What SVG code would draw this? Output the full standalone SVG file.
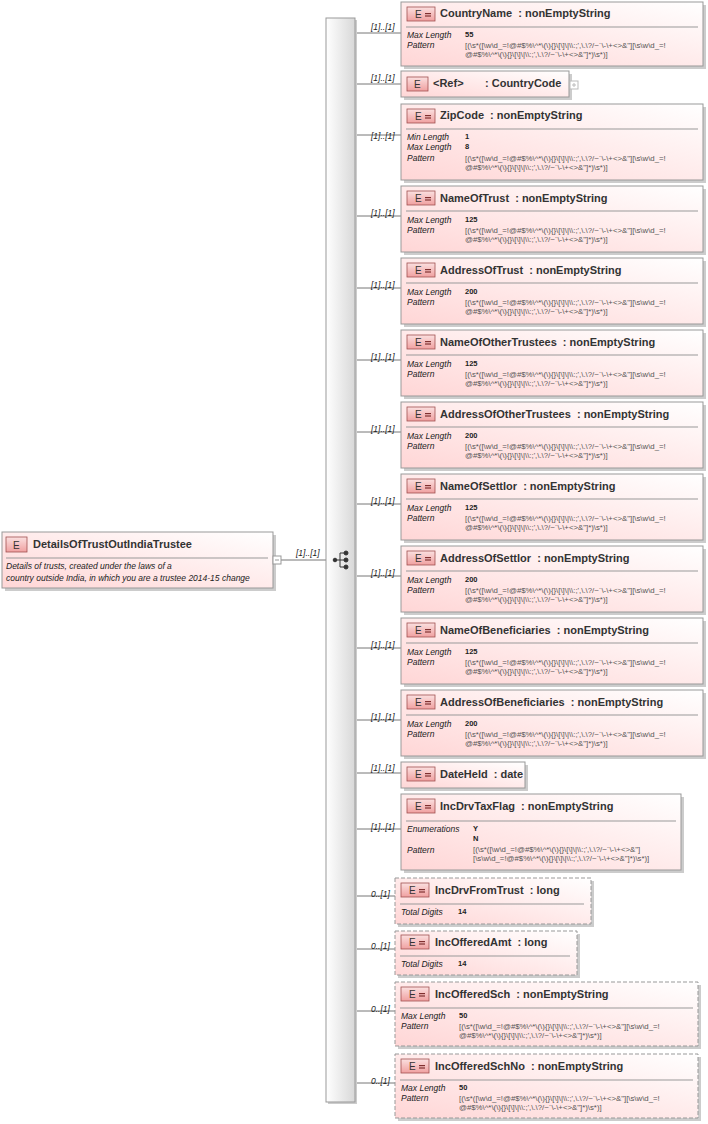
<svg xmlns="http://www.w3.org/2000/svg" width="708" height="1124" viewBox="0 0 708 1124">
<defs>
<linearGradient id="bg" x1="1" y1="0" x2="0" y2="1"><stop offset="0" stop-color="#ffffff"/><stop offset="1" stop-color="#ffd6d6"/></linearGradient>
<linearGradient id="eb" x1="0" y1="0" x2="0" y2="1"><stop offset="0" stop-color="#fbe0e0"/><stop offset="1" stop-color="#f0a0a0"/></linearGradient>
<linearGradient id="sq" x1="0" y1="0" x2="1" y2="0"><stop offset="0" stop-color="#ffffff"/><stop offset="1" stop-color="#d8d8d8"/></linearGradient>
<g id="badge"><rect x="0" y="0" width="28" height="14" fill="url(#eb)" stroke="#a05050" stroke-width="0.8"/><text x="8" y="11" class="eb">E</text><rect x="18" y="6" width="6" height="1.2" fill="#803030"/><rect x="18" y="8.4" width="6" height="1.2" fill="#803030"/></g>
</defs>
<style>
text{font-family:"Liberation Sans",Arial,sans-serif;white-space:pre;}
.box{fill:url(#bg);stroke:#999;stroke-width:1;}
.sh{fill:#ccc;}
.opt{stroke-dasharray:4,2;}
.t{font-size:11px;font-weight:bold;fill:#333;}
.eb{font-size:10px;fill:#333;}
.sep{stroke:#999;stroke-width:1;}
.fl{font-size:8.5px;font-style:italic;fill:#222;}
.fv{font-size:7.5px;font-weight:bold;fill:#222;}
.pv{font-size:7.8px;fill:#555;}
.card{font-size:8.5px;font-style:italic;fill:#222;}
.ln{stroke:#777;stroke-width:1;fill:none;}
</style>
<g id="connectors">
<path class="ln" d="M273 560H326"/>
<path class="ln" d="M355 33H401M355 84H401M355 135H401M355 216H401M355 288H401M355 360H401M355 432H401M355 504H401M355 576H401M355 648H401M355 720H401M355 773H401M355 829H401M355 896H395M355 949H395M355 1011H395M355 1083H395"/>
<g class="card">
<text x="296" y="556">[1]..[1]</text>
<text x="371" y="30">[1]..[1]</text><text x="371" y="81">[1]..[1]</text><text x="371" y="139">[1]..[1]</text><text x="371" y="216">[1]..[1]</text><text x="371" y="288">[1]..[1]</text><text x="371" y="360">[1]..[1]</text><text x="371" y="432">[1]..[1]</text><text x="371" y="504">[1]..[1]</text><text x="371" y="576">[1]..[1]</text><text x="371" y="648">[1]..[1]</text><text x="371" y="720">[1]..[1]</text><text x="371" y="771">[1]..[1]</text><text x="371" y="830">[1]..[1]</text><text x="371" y="897">0..[1]</text><text x="371" y="949">0..[1]</text><text x="371" y="1012">0..[1]</text><text x="371" y="1084">0..[1]</text>
</g>
</g>
<g id="sequence">
<rect x="328" y="20" width="29" height="1084" class="sh"/>
<rect x="326" y="18" width="29" height="1084" fill="url(#sq)" stroke="#999"/>
<g stroke="#333" fill="#333"><path d="M334 560H340M340 553V567M340 553H345M340 560H345M340 567H345" fill="none"/><circle cx="335" cy="560" r="1.8"/><circle cx="346" cy="553" r="2"/><circle cx="346" cy="560" r="2"/><circle cx="346" cy="567" r="2"/></g>
</g>
<g id="parent">
<rect x="5" y="535" width="271" height="56" class="sh"/>
<rect x="2" y="532" width="271" height="56" class="box"/>
<rect x="6" y="537" width="21" height="15" fill="url(#eb)" stroke="#a05050" stroke-width="0.8"/><text x="13" y="549" class="eb">E</text>
<text x="33" y="548" class="t">DetailsOfTrustOutIndiaTrustee</text>
<line x1="6" y1="558" x2="268" y2="558" class="sep"/>
<text x="6" y="569" class="fl">Details of trusts, created under the laws of a</text>
<text x="6" y="581" class="fl">country outside India, in which you are a trustee 2014-15 change</text>
<rect x="273" y="556" width="8" height="8" fill="#fff" stroke="#999"/><path d="M275 560H279" stroke="#999"/>
</g>
<g id="n1"><rect x="404" y="5" width="302" height="64" class="sh"/><rect x="401" y="2" width="302" height="64" class="box"/><use href="#badge" x="407" y="7"/><text x="440" y="17" class="t">CountryName  : nonEmptyString</text><line x1="406" y1="27" x2="698" y2="27" class="sep"/><text x="407" y="38" class="fl">Max Length</text><text x="465" y="37" class="fv">55</text><text x="407" y="48" class="fl">Pattern</text><text x="465" y="48" class="pv">[(\s*([\w\d_=!@#$%\^*\(\){}\[\]\|\\:;',\.\?/~`\-\+&lt;&gt;&amp;"][\s\w\d_=!</text><text x="465" y="57" class="pv">@#$%\^*\(\){}\[\]\|\\:;',\.\?/~`\-\+&lt;&gt;&amp;"]*)\s*)]</text></g>
<g id="n2"><rect x="404" y="74" width="168" height="26" class="sh"/><rect x="401" y="71" width="168" height="26" class="box"/><rect x="407" y="77" width="21" height="14" fill="url(#eb)" stroke="#a05050" stroke-width="0.8"/><text x="414" y="88" class="eb">E</text><text x="433" y="87" class="t">&lt;Ref&gt;</text><text x="485" y="87" class="t">: CountryCode</text><rect x="570" y="81" width="8" height="8" fill="#fff" stroke="#bbb"/><path d="M572 85H576M574 83V87" stroke="#bbb"/></g>
<g id="n3"><rect x="404" y="107" width="302" height="76" class="sh"/><rect x="401" y="104" width="302" height="76" class="box"/><use href="#badge" x="407" y="109"/><text x="440" y="119" class="t">ZipCode  : nonEmptyString</text><line x1="406" y1="129" x2="698" y2="129" class="sep"/><text x="407" y="140" class="fl">Min Length</text><text x="465" y="139" class="fv">1</text><text x="407" y="150" class="fl">Max Length</text><text x="465" y="149" class="fv">8</text><text x="407" y="161" class="fl">Pattern</text><text x="465" y="161" class="pv">[(\s*([\w\d_=!@#$%\^*\(\){}\[\]\|\\:;',\.\?/~`\-\+&lt;&gt;&amp;"][\s\w\d_=!</text><text x="465" y="170" class="pv">@#$%\^*\(\){}\[\]\|\\:;',\.\?/~`\-\+&lt;&gt;&amp;"]*)\s*)]</text></g>
<g id="n4"><rect x="404" y="189" width="302" height="66" class="sh"/><rect x="401" y="186" width="302" height="66" class="box"/><use href="#badge" x="407" y="191"/><text x="440" y="202" class="t">NameOfTrust  : nonEmptyString</text><line x1="406" y1="211" x2="698" y2="211" class="sep"/><text x="407" y="223" class="fl">Max Length</text><text x="465" y="222" class="fv">125</text><text x="407" y="233" class="fl">Pattern</text><text x="465" y="233" class="pv">[(\s*([\w\d_=!@#$%\^*\(\){}\[\]\|\\:;',\.\?/~`\-\+&lt;&gt;&amp;"][\s\w\d_=!</text><text x="465" y="242" class="pv">@#$%\^*\(\){}\[\]\|\\:;',\.\?/~`\-\+&lt;&gt;&amp;"]*)\s*)]</text></g>
<g id="n5"><rect x="404" y="261" width="302" height="66" class="sh"/><rect x="401" y="258" width="302" height="66" class="box"/><use href="#badge" x="407" y="263"/><text x="440" y="274" class="t">AddressOfTrust  : nonEmptyString</text><line x1="406" y1="283" x2="698" y2="283" class="sep"/><text x="407" y="295" class="fl">Max Length</text><text x="465" y="294" class="fv">200</text><text x="407" y="305" class="fl">Pattern</text><text x="465" y="305" class="pv">[(\s*([\w\d_=!@#$%\^*\(\){}\[\]\|\\:;',\.\?/~`\-\+&lt;&gt;&amp;"][\s\w\d_=!</text><text x="465" y="314" class="pv">@#$%\^*\(\){}\[\]\|\\:;',\.\?/~`\-\+&lt;&gt;&amp;"]*)\s*)]</text></g>
<g id="n6"><rect x="404" y="333" width="302" height="66" class="sh"/><rect x="401" y="330" width="302" height="66" class="box"/><use href="#badge" x="407" y="335"/><text x="440" y="346" class="t">NameOfOtherTrustees  : nonEmptyString</text><line x1="406" y1="355" x2="698" y2="355" class="sep"/><text x="407" y="367" class="fl">Max Length</text><text x="465" y="366" class="fv">125</text><text x="407" y="377" class="fl">Pattern</text><text x="465" y="377" class="pv">[(\s*([\w\d_=!@#$%\^*\(\){}\[\]\|\\:;',\.\?/~`\-\+&lt;&gt;&amp;"][\s\w\d_=!</text><text x="465" y="386" class="pv">@#$%\^*\(\){}\[\]\|\\:;',\.\?/~`\-\+&lt;&gt;&amp;"]*)\s*)]</text></g>
<g id="n7"><rect x="404" y="405" width="302" height="66" class="sh"/><rect x="401" y="402" width="302" height="66" class="box"/><use href="#badge" x="407" y="407"/><text x="440" y="418" class="t">AddressOfOtherTrustees  : nonEmptyString</text><line x1="406" y1="427" x2="698" y2="427" class="sep"/><text x="407" y="439" class="fl">Max Length</text><text x="465" y="438" class="fv">200</text><text x="407" y="449" class="fl">Pattern</text><text x="465" y="449" class="pv">[(\s*([\w\d_=!@#$%\^*\(\){}\[\]\|\\:;',\.\?/~`\-\+&lt;&gt;&amp;"][\s\w\d_=!</text><text x="465" y="458" class="pv">@#$%\^*\(\){}\[\]\|\\:;',\.\?/~`\-\+&lt;&gt;&amp;"]*)\s*)]</text></g>
<g id="n8"><rect x="404" y="477" width="302" height="66" class="sh"/><rect x="401" y="474" width="302" height="66" class="box"/><use href="#badge" x="407" y="479"/><text x="440" y="490" class="t">NameOfSettlor  : nonEmptyString</text><line x1="406" y1="499" x2="698" y2="499" class="sep"/><text x="407" y="511" class="fl">Max Length</text><text x="465" y="510" class="fv">125</text><text x="407" y="521" class="fl">Pattern</text><text x="465" y="521" class="pv">[(\s*([\w\d_=!@#$%\^*\(\){}\[\]\|\\:;',\.\?/~`\-\+&lt;&gt;&amp;"][\s\w\d_=!</text><text x="465" y="530" class="pv">@#$%\^*\(\){}\[\]\|\\:;',\.\?/~`\-\+&lt;&gt;&amp;"]*)\s*)]</text></g>
<g id="n9"><rect x="404" y="549" width="302" height="66" class="sh"/><rect x="401" y="546" width="302" height="66" class="box"/><use href="#badge" x="407" y="551"/><text x="440" y="562" class="t">AddressOfSettlor  : nonEmptyString</text><line x1="406" y1="571" x2="698" y2="571" class="sep"/><text x="407" y="583" class="fl">Max Length</text><text x="465" y="582" class="fv">200</text><text x="407" y="593" class="fl">Pattern</text><text x="465" y="593" class="pv">[(\s*([\w\d_=!@#$%\^*\(\){}\[\]\|\\:;',\.\?/~`\-\+&lt;&gt;&amp;"][\s\w\d_=!</text><text x="465" y="602" class="pv">@#$%\^*\(\){}\[\]\|\\:;',\.\?/~`\-\+&lt;&gt;&amp;"]*)\s*)]</text></g>
<g id="n10"><rect x="404" y="621" width="302" height="66" class="sh"/><rect x="401" y="618" width="302" height="66" class="box"/><use href="#badge" x="407" y="623"/><text x="440" y="634" class="t">NameOfBeneficiaries  : nonEmptyString</text><line x1="406" y1="643" x2="698" y2="643" class="sep"/><text x="407" y="655" class="fl">Max Length</text><text x="465" y="654" class="fv">125</text><text x="407" y="665" class="fl">Pattern</text><text x="465" y="665" class="pv">[(\s*([\w\d_=!@#$%\^*\(\){}\[\]\|\\:;',\.\?/~`\-\+&lt;&gt;&amp;"][\s\w\d_=!</text><text x="465" y="674" class="pv">@#$%\^*\(\){}\[\]\|\\:;',\.\?/~`\-\+&lt;&gt;&amp;"]*)\s*)]</text></g>
<g id="n11"><rect x="404" y="693" width="302" height="66" class="sh"/><rect x="401" y="690" width="302" height="66" class="box"/><use href="#badge" x="407" y="695"/><text x="440" y="706" class="t">AddressOfBeneficiaries  : nonEmptyString</text><line x1="406" y1="715" x2="698" y2="715" class="sep"/><text x="407" y="727" class="fl">Max Length</text><text x="465" y="726" class="fv">200</text><text x="407" y="737" class="fl">Pattern</text><text x="465" y="737" class="pv">[(\s*([\w\d_=!@#$%\^*\(\){}\[\]\|\\:;',\.\?/~`\-\+&lt;&gt;&amp;"][\s\w\d_=!</text><text x="465" y="746" class="pv">@#$%\^*\(\){}\[\]\|\\:;',\.\?/~`\-\+&lt;&gt;&amp;"]*)\s*)]</text></g>
<g id="n12"><rect x="404" y="765" width="124" height="26" class="sh"/><rect x="401" y="762" width="124" height="26" class="box"/><use href="#badge" x="407" y="767"/><text x="440" y="778" class="t">DateHeld  : date</text></g>
<g id="n13"><rect x="404" y="797" width="280" height="76" class="sh"/><rect x="401" y="794" width="280" height="76" class="box"/><use href="#badge" x="407" y="799"/><text x="440" y="810" class="t">IncDrvTaxFlag  : nonEmptyString</text><line x1="406" y1="821" x2="676" y2="821" class="sep"/><text x="407" y="832" class="fl">Enumerations</text><text x="473" y="831" class="fv">Y</text><text x="473" y="841" class="fv">N</text><text x="407" y="853" class="fl">Pattern</text><text x="473" y="852" class="pv">[(\s*([\w\d_=!@#$%\^*\(\){}\[\]\|\\:;',\.\?/~`\-\+&lt;&gt;&amp;"]</text><text x="473" y="861" class="pv">[\s\w\d_=!@#$%\^*\(\){}\[\]\|\\:;',\.\?/~`\-\+&lt;&gt;&amp;"]*)\s*)]</text></g>
<g id="n14"><rect x="398" y="881" width="196" height="46" class="sh"/><rect x="395" y="878" width="196" height="46" class="box opt"/><use href="#badge" x="401" y="883"/><text x="435" y="894" class="t">IncDrvFromTrust  : long</text><line x1="400" y1="904" x2="584" y2="904" class="sep"/><text x="401" y="915" class="fl">Total Digits</text><text x="458" y="914" class="fv">14</text></g>
<g id="n15"><rect x="398" y="934" width="182" height="44" class="sh"/><rect x="395" y="931" width="182" height="44" class="box opt"/><use href="#badge" x="401" y="935"/><text x="435" y="946" class="t">IncOfferedAmt  : long</text><line x1="400" y1="956" x2="570" y2="956" class="sep"/><text x="401" y="967" class="fl">Total Digits</text><text x="458" y="966" class="fv">14</text></g>
<g id="n16"><rect x="398" y="985" width="303" height="64" class="sh"/><rect x="395" y="982" width="303" height="64" class="box opt"/><use href="#badge" x="401" y="987"/><text x="435" y="998" class="t">IncOfferedSch  : nonEmptyString</text><line x1="400" y1="1008" x2="693" y2="1008" class="sep"/><text x="401" y="1019" class="fl">Max Length</text><text x="459" y="1018" class="fv">50</text><text x="401" y="1029" class="fl">Pattern</text><text x="459" y="1029" class="pv">[(\s*([\w\d_=!@#$%\^*\(\){}\[\]\|\\:;',\.\?/~`\-\+&lt;&gt;&amp;"][\s\w\d_=!</text><text x="459" y="1038" class="pv">@#$%\^*\(\){}\[\]\|\\:;',\.\?/~`\-\+&lt;&gt;&amp;"]*)\s*)]</text></g>
<g id="n17"><rect x="398" y="1057" width="303" height="64" class="sh"/><rect x="395" y="1054" width="303" height="64" class="box opt"/><use href="#badge" x="401" y="1059"/><text x="435" y="1070" class="t">IncOfferedSchNo  : nonEmptyString</text><line x1="400" y1="1080" x2="693" y2="1080" class="sep"/><text x="401" y="1091" class="fl">Max Length</text><text x="459" y="1090" class="fv">50</text><text x="401" y="1101" class="fl">Pattern</text><text x="459" y="1101" class="pv">[(\s*([\w\d_=!@#$%\^*\(\){}\[\]\|\\:;',\.\?/~`\-\+&lt;&gt;&amp;"][\s\w\d_=!</text><text x="459" y="1110" class="pv">@#$%\^*\(\){}\[\]\|\\:;',\.\?/~`\-\+&lt;&gt;&amp;"]*)\s*)]</text></g>
</svg>
